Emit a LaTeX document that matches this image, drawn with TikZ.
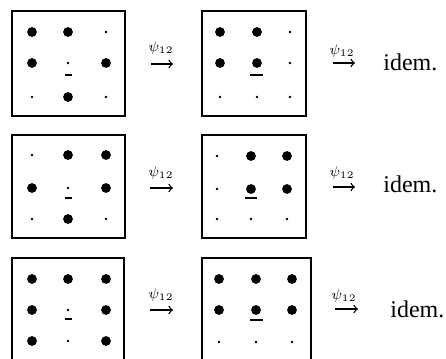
\documentclass[tikz,border=0pt]{standalone}
\usepackage{fontspec}
\setmainfont{Liberation Serif}
\begin{document}
\begin{tikzpicture}[x=0.5pt,y=-0.5pt,
  box/.style={line width=0.9pt},
  bd/.style={circle,fill=black,inner sep=0pt,minimum size=4.9pt},
  sd/.style={circle,fill=black,inner sep=0pt,minimum size=1.4pt},
  ul/.style={line width=1pt},
  arr/.style={->,line width=0.65pt,shorten >=0pt},
  lab/.style={inner sep=0pt,font=\fontsize{7.5}{8}\selectfont},
  idemtxt/.style={inner sep=0pt,anchor=base west,font=\fontsize{12}{14}\selectfont}]
\useasboundingbox (0,0) rectangle (446,359);
\clip (0,0) rectangle (446,359);
% boxes
\draw[box] (12,11) rectangle (125,116);
\draw[box] (202,11) rectangle (306,116);
\draw[box] (12,135) rectangle (125,238);
\draw[box] (202,135) rectangle (306,238);
\draw[box] (12,258) rectangle (124,370);
\draw[box] (202,258) rectangle (311,370);
% row 1, box 1
\foreach \x/\y/\s/\n in {32/32/bd/a, 68/32/bd/b, 106/32/sd/c,
                         32/63/bd/d, 68/63/sd/e, 106/63/bd/f,
                         32/97/sd/g, 68/97/bd/h, 106/97/sd/i}
  \node[\s] (p11\n) at (\x,\y) {};
\draw[ul] (65,75) -- (72,75);
% row 1, box 2
\foreach \x/\y/\s/\n in {220/32/bd/a, 257/32/bd/b, 290/32/sd/c,
                         220/63/bd/d, 257/63/bd/e, 290/63/sd/f,
                         220/97/sd/g, 257/97/sd/h, 290/97/sd/i}
  \node[\s] (p12\n) at (\x,\y) {};
\draw[ul] (250,75) -- (263,75);
% row 2, box 1
\foreach \x/\y/\s/\n in {32/155/sd/a, 68/155/bd/b, 106/155/bd/c,
                         32/188/bd/d, 68/188/sd/e, 106/188/bd/f,
                         32/219/sd/g, 68/219/bd/h, 106/219/sd/i}
  \node[\s] (p21\n) at (\x,\y) {};
\draw[ul] (65,198) -- (72,198);
% row 2, box 2
\foreach \x/\y/\s/\n in {217/156/sd/a, 251/156/bd/b, 287/156/bd/c,
                         217/189/sd/d, 251/189/bd/e, 287/189/bd/f,
                         217/219/sd/g, 251/219/sd/h, 287/219/sd/i}
  \node[\s] (p22\n) at (\x,\y) {};
\draw[ul] (245,198) -- (257,198);
% row 3, box 1
\foreach \x/\y/\s/\n in {32/279/bd/a, 68/279/bd/b, 106/279/bd/c,
                         32/310/bd/d, 68/310/sd/e, 106/310/bd/f,
                         32/341/bd/g, 68/341/sd/h, 106/341/bd/i}
  \node[\s] (p31\n) at (\x,\y) {};
\draw[ul] (65,319) -- (72,319);
% row 3, box 2
\foreach \x/\y/\s/\n in {219/279/bd/a, 256/279/bd/b, 292/279/bd/c,
                         219/310/bd/d, 256/310/bd/e, 292/310/bd/f,
                         219/342/sd/g, 256/342/sd/h, 292/342/sd/i}
  \node[\s] (p32\n) at (\x,\y) {};
\draw[ul] (250,320) -- (263,320);
% arrows
\coordinate (a11s) at (151,64); \coordinate (a11e) at (173,64);
\coordinate (a12s) at (333,63); \coordinate (a12e) at (355,63);
\coordinate (a21s) at (150,188); \coordinate (a21e) at (173,188);
\coordinate (a22s) at (333,187); \coordinate (a22e) at (355,187);
\coordinate (a31s) at (150,310); \coordinate (a31e) at (173,310);
\coordinate (a32s) at (335,309); \coordinate (a32e) at (358,309);
\draw[arr] (a11s) -- (a11e);
\draw[arr] (a12s) -- (a12e);
\draw[arr] (a21s) -- (a21e);
\draw[arr] (a22s) -- (a22e);
\draw[arr] (a31s) -- (a31e);
\draw[arr] (a32s) -- (a32e);
\node[lab] (l11) at (161,48) {$\psi_{12}$};
\node[lab] (l12) at (342,51) {$\psi_{12}$};
\node[lab] (l21) at (161,173) {$\psi_{12}$};
\node[lab] (l22) at (342,173) {$\psi_{12}$};
\node[lab] (l31) at (161,295) {$\psi_{12}$};
\node[lab] (l32) at (344,296) {$\psi_{12}$};
% idem
\node[idemtxt] (i1) at (383,70) {idem.};
\node[idemtxt] (i2) at (383,192) {idem.};
\node[idemtxt] (i3) at (390,317) {idem.};
\end{tikzpicture}
\end{document}
